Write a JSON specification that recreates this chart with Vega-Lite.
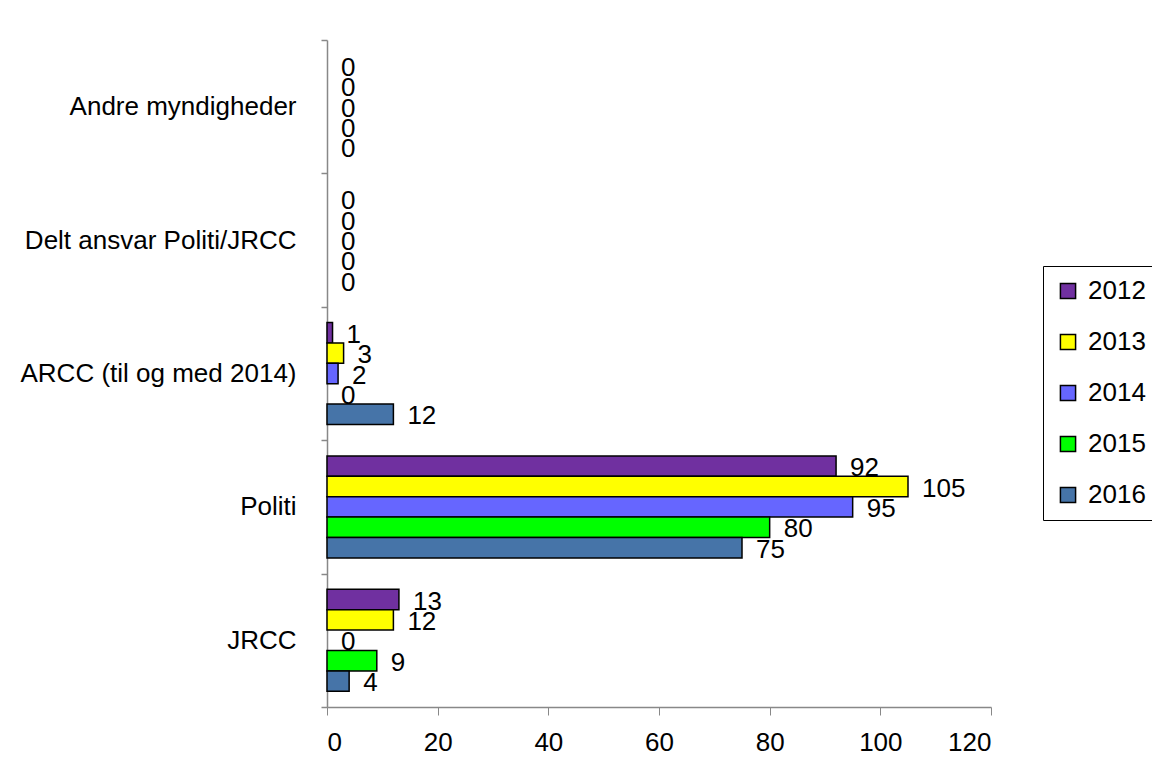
{
  "$schema": "https://vega.github.io/schema/vega-lite/v6.json",
  "autosize": {"type": "none"},
  "padding": {"left": 327, "top": 40, "right": 161, "bottom": 64},
  "width": 664,
  "height": 667,
  "background": "white",
  "config": {
    "font": "Liberation Sans",
    "view": {"stroke": null}
  },
  "data": {
    "values": [
      {"cat": "Andre myndigheder", "year": "2012", "v": 0},
      {"cat": "Andre myndigheder", "year": "2013", "v": 0},
      {"cat": "Andre myndigheder", "year": "2014", "v": 0},
      {"cat": "Andre myndigheder", "year": "2015", "v": 0},
      {"cat": "Andre myndigheder", "year": "2016", "v": 0},
      {"cat": "Delt ansvar Politi/JRCC", "year": "2012", "v": 0},
      {"cat": "Delt ansvar Politi/JRCC", "year": "2013", "v": 0},
      {"cat": "Delt ansvar Politi/JRCC", "year": "2014", "v": 0},
      {"cat": "Delt ansvar Politi/JRCC", "year": "2015", "v": 0},
      {"cat": "Delt ansvar Politi/JRCC", "year": "2016", "v": 0},
      {"cat": "ARCC (til og med 2014)", "year": "2012", "v": 1},
      {"cat": "ARCC (til og med 2014)", "year": "2013", "v": 3},
      {"cat": "ARCC (til og med 2014)", "year": "2014", "v": 2},
      {"cat": "ARCC (til og med 2014)", "year": "2015", "v": 0},
      {"cat": "ARCC (til og med 2014)", "year": "2016", "v": 12},
      {"cat": "Politi", "year": "2012", "v": 92},
      {"cat": "Politi", "year": "2013", "v": 105},
      {"cat": "Politi", "year": "2014", "v": 95},
      {"cat": "Politi", "year": "2015", "v": 80},
      {"cat": "Politi", "year": "2016", "v": 75},
      {"cat": "JRCC", "year": "2012", "v": 13},
      {"cat": "JRCC", "year": "2013", "v": 12},
      {"cat": "JRCC", "year": "2014", "v": 0},
      {"cat": "JRCC", "year": "2015", "v": 9},
      {"cat": "JRCC", "year": "2016", "v": 4}
    ]
  },
  "encoding": {
    "y": {
      "field": "cat", "type": "nominal",
      "sort": ["Andre myndigheder", "Delt ansvar Politi/JRCC", "ARCC (til og med 2014)", "Politi", "JRCC"],
      "scale": {"paddingInner": 0, "paddingOuter": 0},
      "axis": {
        "title": null, "tickBand": "extent", "domainColor": "#888888", "domainWidth": 1.5,
        "tickColor": "#888888", "tickWidth": 1.5, "tickSize": 6, "labelFontSize": 26,
        "labelColor": "black", "labelPadding": 25, "labelLimit": 400
      }
    },
    "yOffset": {
      "field": "year", "type": "nominal",
      "sort": ["2012", "2013", "2014", "2015", "2016"],
      "scale": {"paddingInner": 0, "paddingOuter": 0.77}
    },
    "x": {
      "field": "v", "type": "quantitative",
      "scale": {"domain": [0, 120], "nice": false},
      "axis": {
        "title": null, "values": [0, 20, 40, 60, 80, 100, 120], "grid": false,
        "domainColor": "#888888", "domainWidth": 1.5, "tickColor": "#888888",
        "tickWidth": 1, "tickSize": 8, "labelFontSize": 26, "labelColor": "black",
        "labelPadding": 14
      }
    }
  },
  "layer": [
    {
      "mark": {"type": "bar", "stroke": "black", "strokeWidth": 1.5},
      "encoding": {
        "strokeOpacity": {"condition": {"test": "datum.v == 0", "value": 0}, "value": 1},
        "color": {
          "field": "year", "type": "nominal",
          "scale": {"domain": ["2012", "2013", "2014", "2015", "2016"], "range": ["#7030A0", "#FFFF00", "#6666FF", "#00FF00", "#4674A8"]},
          "legend": {
            "title": null, "orient": "none", "legendX": 716, "legendY": 226,
            "strokeColor": "black", "padding": 12, "symbolType": "square",
            "symbolSize": 230, "symbolStrokeColor": "black", "symbolStrokeWidth": 1.5,
            "labelFontSize": 26, "labelColor": "black", "rowPadding": 25, "labelOffset": 7
          }
        }
      }
    },
    {
      "mark": {"type": "text", "align": "left", "dx": 14, "dy": 2, "fontSize": 26, "color": "black"},
      "encoding": {"text": {"field": "v", "type": "quantitative"}}
    }
  ]
}
